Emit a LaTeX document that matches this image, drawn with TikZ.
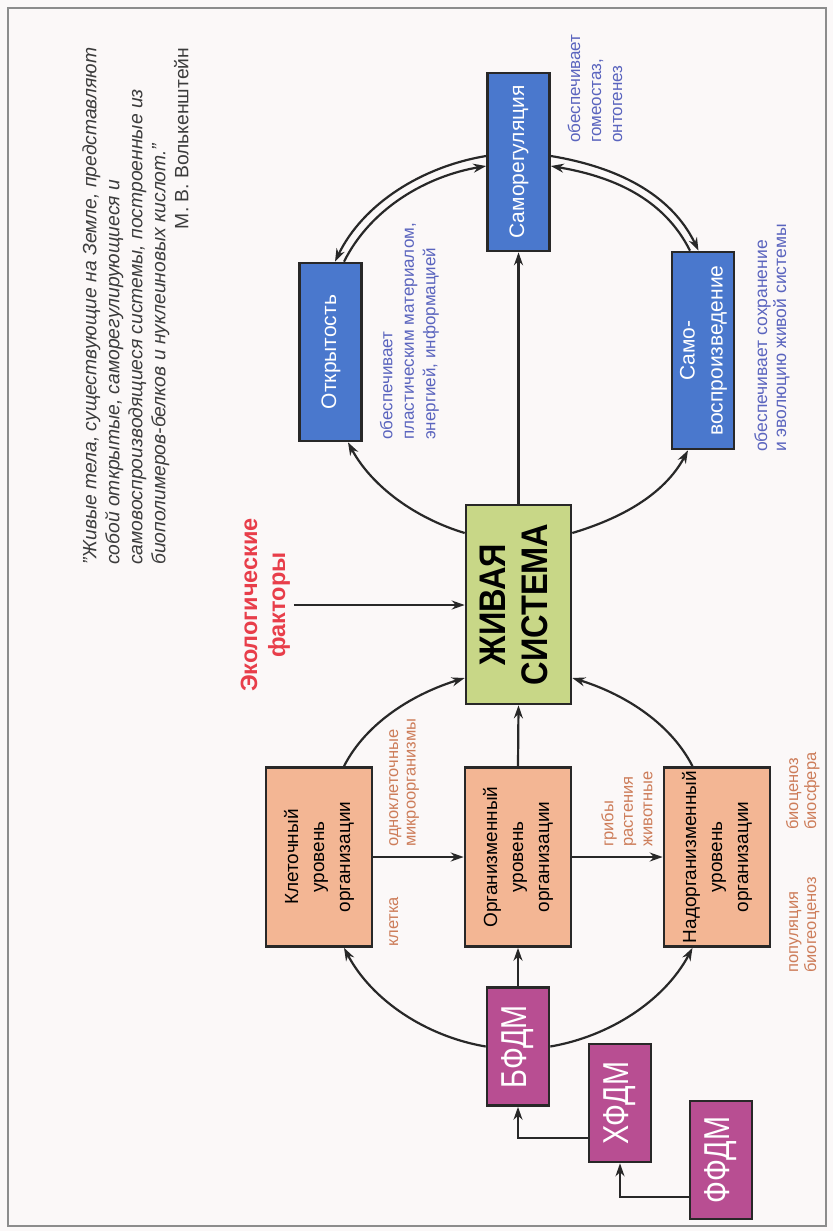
\documentclass[tikz,border=0pt]{standalone}
\usepackage{fontspec}
\setmainfont{Liberation Sans}
\newfontfamily\zhfont[FakeStretch=0.88]{Liberation Sans}
\newfontfamily\dmfont[FakeStretch=0.8]{Liberation Sans}
\usepackage{graphicx}
\usetikzlibrary{arrows.meta}
\definecolor{bgc}{RGB}{251,248,248}
\definecolor{framec}{RGB}{140,140,140}
\definecolor{linec}{RGB}{40,40,40}
\definecolor{orangec}{RGB}{243,182,148}
\definecolor{bluec}{RGB}{74,120,205}
\definecolor{greenc}{RGB}{200,215,135}
\definecolor{purplec}{RGB}{184,78,146}
\definecolor{redc}{RGB}{232,62,74}
\definecolor{bluetxt}{RGB}{90,100,190}
\definecolor{orangetxt}{RGB}{205,125,90}
\definecolor{quotec}{RGB}{60,60,60}
\newcommand{\rotc}[1]{\rotatebox{90}{\begin{tabular}{@{}c@{}}#1\end{tabular}}}
\newcommand{\rotl}[1]{\rotatebox{90}{\begin{tabular}{@{}l@{}}#1\end{tabular}}}
\tikzset{
  box/.style={draw=linec, line width=2.6pt, inner sep=0pt},
  obox/.style={box, fill=orangec, minimum width=106pt, minimum height=179pt, font=\fontsize{19}{26}\selectfont},
  gbox/.style={box, fill=greenc, minimum width=105pt, minimum height=199pt, font=\zhfont\bfseries\fontsize{37}{42}\selectfont},
  bbox/.style={box, fill=bluec, minimum width=62pt, text=white, font=\fontsize{21}{28}\selectfont},
  pbox/.style={box, fill=purplec, minimum width=62pt, minimum height=118pt, text=white, font=\dmfont\fontsize{36}{40}\selectfont},
  lbl/.style={inner sep=0pt, anchor=south west},
  olbl/.style={lbl, text=orangetxt},
  blbl/.style={lbl, text=bluetxt},
  arr/.style={draw=linec, line width=2.2pt, -{Stealth[length=13pt,width=9pt]}}
}
\begin{document}
\begin{tikzpicture}[x=1pt,y=-1pt]
\useasboundingbox (0,0) rectangle (833,1231);
\fill[bgc] (0,0) rectangle (833,1231);
\draw[framec, line width=1.5pt] (8,8) rectangle (826,1226);

% quote
\node[lbl, text=quotec, font=\fontsize{19.3}{23}\selectfont\itshape] (quote) at (80,565)
  {\rotl{"Живые тела, существующие на Земле, представляют\\
  собой открытые, саморегулирующиеся и\\
  самовоспроизводящиеся системы, построенные из\\
  биополимеров-белков и нуклеиновых кислот."\\
  \multicolumn{1}{@{}r@{}}{\upshape М. В. Волькенштейн}}};

% main boxes
\node[obox] (kl) at (319,857) {\rotc{Клеточный\\уровень\\организации}};
\node[obox] (org) at (518,857) {\rotc{Организменный\\уровень\\организации}};
\node[obox] (nad) at (717,857) {\rotc{Надорганизменный\\уровень\\организации}};
\node[gbox] (zh) at (518.5,604.5) {\rotc{ЖИВАЯ\\СИСТЕМА}};
\node[bbox, minimum height=178pt] (otk) at (330.5,352) {\rotc{Открытость}};
\node[bbox, minimum height=178pt] (sr) at (518.5,162) {\rotc{Саморегуляция}};
\node[bbox, minimum height=197pt] (sv) at (703,350.5) {\rotc{Само-\\воспроизведение}};
\node[pbox] (bf) at (518,1046.5) {\rotc{БФДМ}};
\node[pbox] (xf) at (620,1103) {\rotc{ХФДМ}};
\node[pbox] (ff) at (721,1160) {\rotc{ФФДМ}};

% ecological factors
\node[inner sep=0pt, anchor=west, text=redc, font=\bfseries\fontsize{23.5}{28}\selectfont] (eco) at (237.4,605)
  {\rotc{Экологические\\факторы}};

% labels
\node[olbl, font=\fontsize{16.5}{18}\selectfont] (klet) at (385.4,947) {\rotl{клетка}};
\node[olbl, font=\fontsize{16.5}{17.5}\selectfont] (odno) at (385.7,847) {\rotl{одноклеточные\\микроорганизмы}};
\node[olbl, font=\fontsize{16.5}{19.5}\selectfont] (grib) at (599.4,847) {\rotl{грибы\\растения\\животные}};
\node[olbl, font=\fontsize{16.5}{18}\selectfont] (bioc) at (785.4,830) {\rotl{биоценоз\\биосфера}};
\node[olbl, font=\fontsize{16.5}{18}\selectfont] (popu) at (785.4,973) {\rotl{популяция\\биогеоценоз}};
\node[blbl, font=\fontsize{17}{21.5}\selectfont] (otkl) at (377,440) {\rotl{обеспечивает\\пластическим материалом,\\энергией, информацией}};
\node[blbl, font=\fontsize{17}{21}\selectfont] (srl) at (565.3,143) {\rotl{обеспечивает\\гомеостаз,\\онтогенез}};
\node[blbl, font=\fontsize{17.5}{19}\selectfont] (svl) at (753.7,452) {\rotl{обеспечивает сохранение\\и эволюцию живой системы}};

% straight connectors
\draw[arr] (kl.east) -- (org.west);
\draw[arr] (org.east) -- (nad.west);
\draw[arr] (org.north) -- (zh.south);
\draw[arr] (bf.north) -- (org.south);
\draw[arr] (zh.north) -- (sr.south);
\draw[arr] (eco.east) -- (eco.east -| zh.west);
\draw[arr] ([yshift=-35pt]xf.west) -| (bf.south);
\draw[arr] ([yshift=-37pt]ff.west) -| (xf.south);

% lower circle
\draw[arr] ([xshift=25pt]kl.north) .. controls +(23,-45) and +(-49,15) .. ([yshift=-73.5pt]zh.west);
\draw[arr] ([xshift=-24.5pt]nad.north) .. controls +(-23,-45) and +(49,15) .. ([yshift=-73.5pt]zh.east);
\draw[arr] (bf.west) .. controls +(-59,-10) and +(28,53) .. ([xshift=25pt]kl.south);
\draw[arr] (bf.east) .. controls +(59,-10) and +(-28,53) .. ([xshift=-24.5pt]nad.south);

% upper circle
\draw[arr] ([yshift=71.5pt]zh.west) .. controls +(-48.6,-14.6) and +(24,44.6) .. ([xshift=17.5pt]otk.south);
\draw[arr] ([yshift=71.5pt]zh.east) .. controls +(48.6,-14.6) and +(-24,44.6) .. ([xshift=-15pt]sv.south);
\draw[arr] ([yshift=6pt]sr.west) .. controls +(-64,10.5) and +(28,-58) .. ([xshift=4.5pt]otk.north);
\draw[arr] ([xshift=13.5pt]otk.north) .. controls +(27,-54) and +(-59,10) .. ([yshift=-4pt]sr.west);
\draw[arr] ([yshift=6pt]sr.east) .. controls +(64,10.5) and +(-28,-58) .. ([xshift=-4.5pt]sv.north);
\draw[arr] ([xshift=-13pt]sv.north) .. controls +(-27,-54) and +(59,10) .. ([yshift=-4pt]sr.east);
\end{tikzpicture}
\end{document}
